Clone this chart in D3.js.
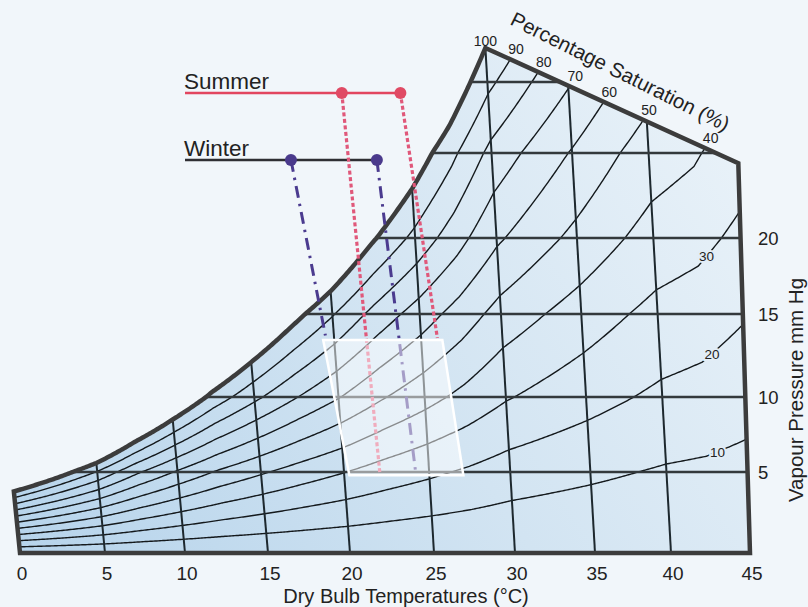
<!DOCTYPE html>
<html><head><meta charset="utf-8">
<script src="https://cdn.jsdelivr.net/npm/d3@7"></script>
<style>
html,body{margin:0;padding:0;background:#f1f6fa;}
svg{display:block;font-family:"Liberation Sans",Arial,Helvetica,sans-serif;}
</style></head><body>
<svg id="c" width="808" height="607"></svg>
<script>
// ---------------- DATA ----------------
const tempTicks = [0,5,10,15,20,25,30,35,40,45];
const vpTicks = [5,10,15,20,25,30];
const vpLabels = [5,10,15,20];
const satTemps = [0,2.5,5,7.5,10,12.5,15,17.5,20,22.5,25,27.5,30,32.5,35,37.5,40,42.5,45];
const satVP    = [3.8,4.6,5.6,7.0,8.5,10.3,12.1,14.2,16.5,19.6,22.9,26.9,32.4,37.0,42.2,48.3,55.3,60.5,71.9];
const rhLevels = [10,20,30,40,50,60,70,80,90];
const topLabels = [100,90,80,70,60,50,40];
const sideLabels = [30,20,10];
const sideLabelTemps = [43.0,43.1,43.2];
const topEdge = [[30,32.4],[45,24.4]];
const seasons = ["Summer","Winter"];
const summerDots = [19.5,23.0];
const winterDots = [16.4,21.6];
const summerTargets = [[22.1,5.0],[26.0,13.55]];
const winterTargets = [[19.5,13.7],[24.2,5.1]];
const comfortZone = [[19.35,13.43],[26.3,13.43],[27.1,4.8],[20.3,4.8]];

// ---------------- SCALES ----------------
const svg = d3.select('#c');
const x = d3.scaleLinear().domain(tempTicks).range([20,105,185,268,350,434,515,595,671,750]);
const y = d3.scaleLinear().domain([0].concat(vpTicks)).range([553,472,397,314,238,153,82]);
const skew = d3.scaleLinear().domain([0,15,25,40,45]).range([0.1,0.088,0.06,0.056,0.03]);
const pos = (T,v) => [x(T) - skew(T)*(y(0)-y(v)), y(v)];
const lnSat = d3.scaleLinear().domain(satTemps).range(satVP.map(Math.log));
const satAt = T => Math.exp(lnSat(T));
const line = d3.line();

const P1 = pos(topEdge[0][0], topEdge[0][1]);
const P2 = pos(topEdge[1][0], topEdge[1][1]);
const mEdge = (P2[1]-P1[1])/(P2[0]-P1[0]);
const edgeY = px => P1[1] + (px-P1[0])*mEdge;
const inside = p => p[0] < P1[0] || p[1] >= edgeY(p[0]) - 1e-9;
function bisect(f, lo, hi){
  for(let i=0;i<50;i++){ const mid=(lo+hi)/2; if(f(mid)) lo=mid; else hi=mid; }
  return lo;
}

// ---------------- DEFS ----------------
const defs = svg.append('defs');
const grad = defs.append('linearGradient').attr('id','fillGrad').attr('gradientUnits','userSpaceOnUse')
  .attr('x1',0).attr('y1',553).attr('x2',740).attr('y2',60);
grad.append('stop').attr('offset',0).attr('stop-color','#b5d3eb');
grad.append('stop').attr('offset',0.5).attr('stop-color','#d2e4f2');
grad.append('stop').attr('offset',1).attr('stop-color','#ebf3f9');

// ---------------- FRAME SHAPE ----------------
const satCurve = d3.range(0,30.0001,0.1).map(T => pos(T, satAt(T)));
const framePts = [pos(0,0)].concat(satCurve, [P2, pos(45,0)]);
svg.append('path').attr('d', line(framePts)+'Z').attr('fill','url(#fillGrad)');

const g = svg.append('g');

// Percentage saturation curves
const rhEnds = {};
rhLevels.forEach(p => {
  const pts = [];
  const Ts = d3.range(0,45.0001,0.1);
  for(let i=0;i<Ts.length;i++){
    const pt = pos(Ts[i], p/100*satAt(Ts[i]));
    if(inside(pt)) pts.push(pt);
    else {
      const Tb = bisect(T => inside(pos(T, p/100*satAt(T))), Ts[i-1], Ts[i]);
      pts.push(pos(Tb, p/100*satAt(Tb)));
      break;
    }
  }
  rhEnds[p] = pts[pts.length-1];
  g.append('path').attr('d', line(pts)).attr('fill','none')
    .attr('stroke','#14191c').attr('stroke-width',1.4);
});

// Vertical dry-bulb lines
tempTicks.filter(t => t>0 && t<45).forEach(T => {
  let vt = satAt(T);
  if(!inside(pos(T,vt))) vt = bisect(v => inside(pos(T,v)), 0, vt);
  g.append('path').attr('d', line([pos(T,0), pos(T,vt)])).attr('fill','none')
    .attr('stroke','#1d282e').attr('stroke-width',2);
});

// Horizontal vapour-pressure lines
vpTicks.forEach(v => {
  const T0 = lnSat.invert(Math.log(v));
  let T1 = 45;
  if(!inside(pos(45,v))) T1 = bisect(T => inside(pos(T,v)), T0, 45);
  g.append('path').attr('d', line([pos(T0,v), pos(T1,v)])).attr('fill','none')
    .attr('stroke','#33393c').attr('stroke-width',2.6);
});

// Frame outline
svg.append('path').attr('d', line(framePts)+'Z').attr('fill','none')
  .attr('stroke','#3c3c3c').attr('stroke-width',4.5).attr('stroke-linejoin','miter');

// Side labels (30,20,10) with halo
sideLabels.forEach((p,i) => {
  const pt = pos(sideLabelTemps[i], p/100*satAt(sideLabelTemps[i]));
  svg.append('text').attr('x',pt[0]).attr('y',pt[1]+5).attr('text-anchor','middle')
    .attr('font-size',13.5).attr('fill','#222')
    .attr('stroke','#e2edf6').attr('stroke-width',4).attr('paint-order','stroke')
    .text(p);
});

// Top labels
const dx = P2[0]-P1[0], dy = P2[1]-P1[1], dl = Math.hypot(dx,dy);
const nrm = [dy/dl, -dx/dl];
topLabels.forEach(p => {
  let px, py;
  if(p===100){ px = P1[0]; py = P1[1]-2; }
  else { const e = rhEnds[p]; px = e[0]+nrm[0]*11+1; py = e[1]+nrm[1]*11+5; }
  svg.append('text').attr('x',px).attr('y',py).attr('text-anchor','middle')
    .attr('font-size',14).attr('fill','#222').text(p);
});

svg.append('text').attr('transform','translate(617,78) rotate(26.5)')
  .attr('text-anchor','middle').attr('font-size',20.5).attr('fill','#222')
  .text('Percentage Saturation (%)');

// Bottom axis labels
tempTicks.forEach(T => {
  svg.append('text').attr('x',x(T)+2).attr('y',580).attr('text-anchor','middle')
    .attr('font-size',19).attr('fill','#222').text(T);
});
svg.append('text').attr('x',406).attr('y',603).attr('text-anchor','middle')
  .attr('font-size',20).attr('fill','#222').text('Dry Bulb Temperatures (°C)');

// Right axis labels
vpLabels.forEach(v => {
  svg.append('text').attr('x',758).attr('y',y(v)+7).attr('text-anchor','start')
    .attr('font-size',18.5).attr('fill','#222').text(v);
});
svg.append('text').attr('transform','translate(803,390) rotate(-90)')
  .attr('text-anchor','middle').attr('font-size',20.5).attr('fill','#222')
  .text('Vapour Pressure mm Hg');

// ---------------- SEASON LEGEND & PROJECTIONS ----------------
const legendX = 185, rowY = [93,160];
const seasonDef = [
  {dots:summerDots, targets:summerTargets, line:'#e2465f', dot:'#e04a64', proj:'#e0587a', dash:'4,2.5', w:3.2},
  {dots:winterDots, targets:winterTargets, line:'#2f2f33', dot:'#4a3a8c', proj:'#4b3b8f', dash:'12,6,2.5,6', w:3}
];
seasonDef.forEach((s,i) => {
  const yy = rowY[i];
  svg.append('text').attr('x',legendX-1).attr('y',yy-4).attr('font-size',22.5).attr('fill','#222').text(seasons[i]);
  svg.append('line').attr('x1',legendX).attr('x2',x(d3.max(s.dots))).attr('y1',yy).attr('y2',yy)
    .attr('stroke',s.line).attr('stroke-width',2.6);
});
seasonDef.forEach((s,i) => {
  const yy = rowY[i];
  s.dots.forEach((T,j) => {
    const t = pos(s.targets[j][0], s.targets[j][1]);
    svg.append('line').attr('x1',x(T)).attr('y1',yy).attr('x2',t[0]).attr('y2',t[1])
      .attr('stroke',s.proj).attr('stroke-width',s.w).attr('stroke-dasharray',s.dash);
  });
});
seasonDef.forEach((s,i) => {
  s.dots.forEach(T => {
    svg.append('circle').attr('cx',x(T)).attr('cy',rowY[i]).attr('r',6).attr('fill',s.dot);
  });
});

// Comfort zone
svg.append('path').attr('d', line(comfortZone.map(d => pos(d[0],d[1])))+'Z')
  .attr('fill','#ffffff').attr('fill-opacity',0.5)
  .attr('stroke','#ffffff').attr('stroke-width',2.5);
</script>
</body></html>
